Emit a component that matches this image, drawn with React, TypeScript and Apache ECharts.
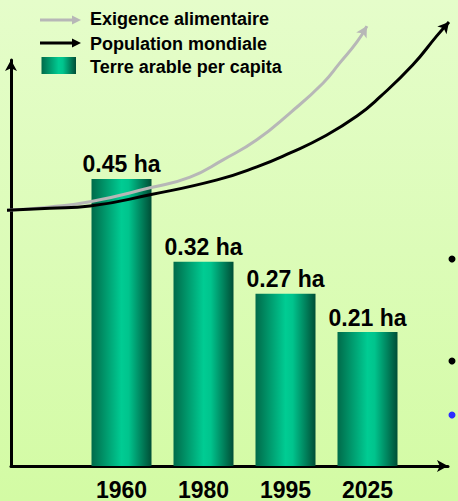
import React, { useEffect, useRef } from "react";
import * as echarts from "echarts";

// Arable land per capita, by year (hectares)
const years = ["1960", "1980", "1995", "2025"];
const arableLand = [0.45, 0.32, 0.27, 0.21];

// Trend curves on a relative 0–100 index (x: time, y: level)
const foodDemand: [number, number][] = [
  [0, 54.9], [9.5, 55.6], [18.4, 56.7], [31.7, 59.7], [40.6, 62.0], [47.9, 65.7],
  [55.4, 70.0], [62.8, 75.8], [70.1, 82.2], [73.8, 86.5], [77.6, 91.0], [79.8, 94.4],
];
const worldPopulation: [number, number][] = [
  [0, 54.9], [9.5, 55.3], [18.4, 55.8], [31.7, 58.2], [46.6, 61.4], [55.4, 64.2],
  [62.8, 67.2], [70.1, 70.6], [77.6, 75.1], [82.7, 79.2], [90.0, 86.1], [95.3, 92.3],
  [98.0, 95.3],
];

const legendNames = ["Exigence alimentaire", "Population mondiale", "Terre arable per capita"];

const FONT = '"Liberation Sans", Arial, Helvetica, sans-serif';

const barGradient = () =>
  new echarts.graphic.LinearGradient(0, 0, 1, 0, [
    { offset: 0, color: "#006b4a" },
    { offset: 0.5, color: "#00cc93" },
    { offset: 0.62, color: "#00c48d" },
    { offset: 1, color: "#004e36" },
  ]);

// Plain line, with an arrow head on the last point
function withArrow(points: [number, number][], rotate: number) {
  return points.map((p, i) =>
    i === points.length - 1
      ? { value: p, symbol: "arrow", symbolSize: [9, 11], symbolRotate: rotate }
      : { value: p, symbol: "none" }
  );
}

export default function App() {
  const ref = useRef<HTMLDivElement>(null);

  useEffect(() => {
    if (!ref.current) return;
    const chart = echarts.init(ref.current, null, { renderer: "svg" });

    const legendText = (y: number, text: string) => ({
      type: "text",
      x: 90,
      y,
      style: {
        text,
        font: `bold 18px ${FONT}`,
        fill: "#000",
        textVerticalAlign: "middle",
      },
    });

    const curve = (name: string, data: [number, number][], color: string, rotate: number, z: number) => ({
      name,
      type: "line",
      xAxisIndex: 2,
      yAxisIndex: 2,
      smooth: 0.5,
      clip: false,
      silent: true,
      showSymbol: true,
      symbol: "none",
      data: withArrow(data, rotate),
      lineStyle: { color, width: 3 },
      itemStyle: { color },
      z,
    });

    chart.setOption({
      animation: false,
      grid: [
        // bars
        { left: 80.5, width: 328, top: 51.3, bottom: 35 },
        // axis frame with arrows
        { left: 11, right: 10, top: 60, bottom: 35 },
        // trend curves
        { left: 7, right: 0, top: 0, bottom: 35 },
      ],
      xAxis: [
        {
          gridIndex: 0,
          type: "category",
          data: years,
          axisLine: { show: false },
          axisTick: { show: false },
          axisLabel: {
            margin: 12,
            fontFamily: FONT,
            fontWeight: "bold",
            fontSize: 23,
            color: "#000",
          },
        },
        {
          gridIndex: 1,
          type: "value",
          min: 0,
          max: 100,
          axisLine: {
            show: true,
            symbol: ["none", "arrow"],
            symbolSize: [9, 11],
            lineStyle: { color: "#000", width: 3 },
          },
          axisTick: { show: false },
          axisLabel: { show: false },
          splitLine: { show: false },
        },
        { gridIndex: 2, type: "value", min: 0, max: 100, show: false },
      ],
      yAxis: [
        { gridIndex: 0, type: "value", min: 0, max: 0.65, show: false },
        {
          gridIndex: 1,
          type: "value",
          min: 0,
          max: 100,
          axisLine: {
            show: true,
            symbol: ["none", "arrow"],
            symbolSize: [9, 11],
            lineStyle: { color: "#000", width: 3 },
          },
          axisTick: { show: false },
          axisLabel: { show: false },
          splitLine: { show: false },
        },
        { gridIndex: 2, type: "value", min: 0, max: 100, show: false },
      ],
      series: [
        {
          name: legendNames[2],
          type: "bar",
          xAxisIndex: 0,
          yAxisIndex: 0,
          data: arableLand,
          barWidth: 60,
          silent: true,
          itemStyle: { color: barGradient() },
          label: {
            show: true,
            position: "top",
            distance: 3,
            formatter: (p: any) => `${Number(p.value).toFixed(2)} ha`,
            fontFamily: FONT,
            fontWeight: "bold",
            fontSize: 23,
            color: "#000",
          },
          z: 2,
        },
        curve(legendNames[0], foodDemand, "#b7b7b7", -30, 3),
        curve(legendNames[1], worldPopulation, "#000", -40, 4),
      ],
      graphic: [
        // legend
        {
          type: "line",
          shape: { x1: 40, y1: 20, x2: 76, y2: 20 },
          style: { stroke: "#b7b7b7", lineWidth: 3 },
        },
        {
          type: "polygon",
          shape: { points: [[81, 20], [72, 15.5], [72, 24.5]] },
          style: { fill: "#b7b7b7" },
        },
        {
          type: "line",
          shape: { x1: 40, y1: 43, x2: 76, y2: 43 },
          style: { stroke: "#000", lineWidth: 3 },
        },
        {
          type: "polygon",
          shape: { points: [[81, 43], [72, 38.5], [72, 47.5]] },
          style: { fill: "#000" },
        },
        {
          type: "rect",
          shape: { x: 41.5, y: 57, width: 34.5, height: 17 },
          style: { fill: barGradient() },
        },
        legendText(19, legendNames[0]),
        legendText(44, legendNames[1]),
        legendText(66.5, legendNames[2]),
        // bullet marks at the right edge
        { type: "circle", shape: { cx: 452, cy: 259, r: 3.5 }, style: { fill: "#000" } },
        { type: "circle", shape: { cx: 452, cy: 361, r: 3.5 }, style: { fill: "#000" } },
        { type: "circle", shape: { cx: 452, cy: 415, r: 3.5 }, style: { fill: "#2d2dff" } },
      ],
    });

    return () => chart.dispose();
  }, []);

  return (
    <div
      style={{
        position: "fixed",
        left: 0,
        top: 0,
        width: 458,
        height: 501,
        background: "linear-gradient(180deg, #e5fdca 0%, #dcfcb8 50%, #d3fba4 100%)",
      }}
    >
      <div ref={ref} style={{ width: 458, height: 501 }} />
    </div>
  );
}
